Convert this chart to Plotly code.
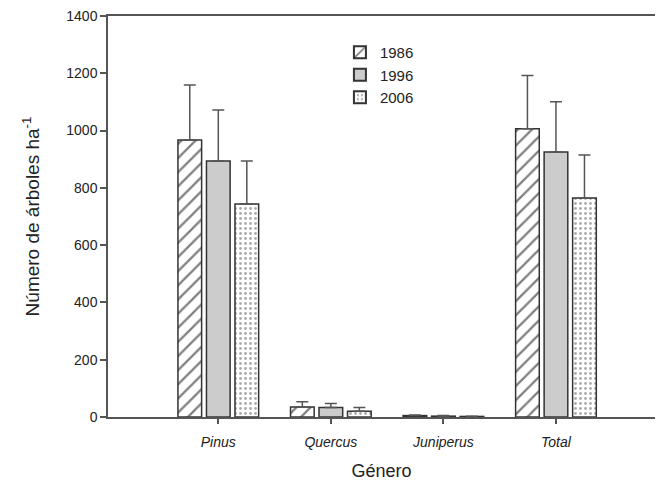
import plotly.graph_objects as go

categories = ["<i>Pinus</i>", "<i>Quercus</i>", "<i>Juniperus</i>", "<i>Total</i>"]
years = ["1986", "1996", "2006"]
values = {
    "1986": [967, 35, 5, 1006],
    "1996": [894, 33, 3, 925],
    "2006": [744, 20, 2, 765],
}
errors = {
    "1986": [192, 18, 2, 186],
    "1996": [178, 14, 2, 176],
    "2006": [150, 13, 1, 150],
}

styles = {
    "1986": dict(color="white", pattern=dict(shape="/", fgcolor="#000", size=10, solidity=0.22)),
    "1996": dict(color="#cccccc"),
    "2006": dict(color="white", pattern=dict(shape=".", fgcolor="#555", size=5, solidity=0.25)),
}

fig = go.Figure()
for y in years:
    fig.add_trace(go.Bar(
        name=y,
        x=categories,
        y=values[y],
        marker=dict(line=dict(color="#333", width=1.5), **styles[y]),
        error_y=dict(type="data", array=errors[y], arrayminus=[0] * len(errors[y]),
                     symmetric=False, color="#555", thickness=1.5, width=6),
    ))

fig.update_layout(
    width=662, height=492,
    margin=dict(l=108, r=7, t=16, b=75),
    paper_bgcolor="white", plot_bgcolor="white",
    barmode="group", bargap=0.24, bargroupgap=0.17,
    font=dict(family="Liberation Sans, Arial, sans-serif", color="#222", size=14),
    showlegend=True,
    legend=dict(x=0.424, y=0.95, xanchor="left", yanchor="top",
                font=dict(size=15), bgcolor="rgba(0,0,0,0)",
                tracegroupgap=0, itemsizing="constant"),
    xaxis=dict(
        range=[-0.98, 3.88], showline=True, linecolor="#555", linewidth=1.5,
        mirror=True, ticks="outside", ticklen=5, tickcolor="#555", tickwidth=1.5,
        showgrid=False, zeroline=False, ticklabelstandoff=6,
        title=dict(text="Género", font=dict(size=18), standoff=16),
        tickfont=dict(size=14),
    ),
    yaxis=dict(
        range=[0, 1400], dtick=200, showline=True, linecolor="#555", linewidth=1.5,
        ticks="outside", ticklen=6, tickcolor="#555", tickwidth=1.5,
        showgrid=False, zeroline=False,
        title=dict(text="Número de árboles ha<sup>-1</sup>", font=dict(size=19), standoff=22),
        tickfont=dict(size=14),
    ),
)

fig.write_html("out.html")
